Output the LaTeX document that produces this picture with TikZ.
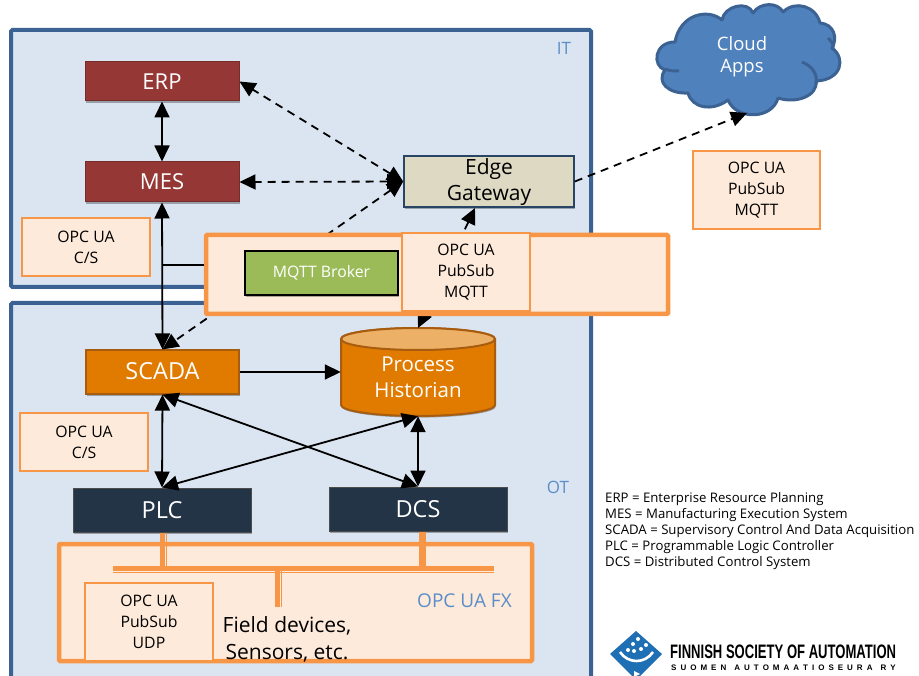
\documentclass[tikz,border=0pt]{standalone}
\usepackage{fontspec}
\setmainfont{Open Sans}
\newfontfamily\logofont{Liberation Sans}
\usetikzlibrary{arrows.meta,shadows}
\definecolor{panelfill}{HTML}{DBE5F1}
\definecolor{paneledge}{HTML}{3B6292}
\definecolor{orangeedge}{HTML}{F79646}
\definecolor{peach}{HTML}{FDEADA}
\definecolor{maroon}{HTML}{953735}
\definecolor{burnt}{HTML}{E07B00}
\definecolor{burntedge}{HTML}{A85C10}
\definecolor{navy}{HTML}{243447}
\definecolor{khaki}{HTML}{DDD9C3}
\definecolor{leaf}{HTML}{9BBB59}
\definecolor{cloudfill}{HTML}{4F81BD}
\definecolor{labelblue}{HTML}{5B8DC9}
\definecolor{logoblue}{HTML}{1F6FB5}
\newcommand{\fs}[2]{\fontsize{#1}{#2}\selectfont}
\tikzset{
  panel/.style={draw=paneledge,fill=panelfill,line width=4pt,rounded corners=1.5pt},
  softshadow/.style={drop shadow={shadow xshift=0.8pt,shadow yshift=-1.6pt,opacity=.3,fill=black}},
  block/.style={rectangle,inner sep=0pt,align=center,text=white,softshadow,font=\fs{22}{26}},
  redblock/.style={block,fill=maroon,draw=maroon!80!black,line width=1pt},
  orangeblock/.style={block,fill=burnt,draw=burntedge,line width=1.2pt},
  navyblock/.style={block,fill=navy,draw=black!70,line width=1pt,font=\fs{23.5}{26}},
  note/.style={rectangle,draw=orangeedge,fill=peach,line width=1.6pt,inner sep=0pt,align=center,text=black,font=\fs{15.8}{21}},
  bigpeach/.style={rectangle,draw=orangeedge,fill=peach,line width=4.5pt,inner sep=0pt,rounded corners=1pt},
  link/.style={line width=1.8pt,black},
  both/.style={link,{Triangle[length=16pt,width=15pt]}-{Triangle[length=16pt,width=15pt]}},
  onearrow/.style={link,-{Triangle[length=16pt,width=15pt]}},
  dashlink/.style={both,dash pattern=on 8pt off 6pt},
  dashone/.style={onearrow,dash pattern=on 8pt off 6pt},
  bus/.style={orangeedge,line width=5pt},
  busedge/.style={orangeedge,line width=1.6pt},
  tag/.style={text=labelblue,inner sep=0pt,font=\fs{17}{20}},
  plain/.style={inner sep=0pt,align=center,text=black},
  legendline/.style={inner sep=0pt,anchor=west,text=black,font=\fs{13.2}{15}},
}
\begin{document}
\begin{tikzpicture}[x=1pt,y=-1pt]
\useasboundingbox (0,0) rectangle (919,676);
% panels
\draw[panel] (11,30) rectangle (591,287);
\draw[panel] (11,303) rectangle (591,690);
\node[tag] (itlabel) at (564,48) {IT};
\node[tag] (otlabel) at (558,487) {OT};

% blocks
\node[redblock,minimum width=154pt,minimum height=39pt] (erp) at (162,81.5) {ERP};
\node[redblock,minimum width=154pt,minimum height=40pt] (mes) at (162,182) {MES};
\node[orangeblock,font=\fs{23.5}{26},minimum width=153pt,minimum height=44pt] (scada) at (162.5,372) {};
\node[inner sep=0pt,text=white,font=\fs{23.5}{26}] (scadatext) at (162.5,371) {SCADA};
\node[navyblock,minimum width=178pt,minimum height=44pt] (plc) at (162,510) {PLC};
\node[navyblock,minimum width=178pt,minimum height=44pt] (dcs) at (418,509) {DCS};
\node[block,fill=khaki,draw=paneledge!70!black,line width=1.6pt,text=black,minimum width=170pt,minimum height=51pt,font=\fs{21}{26}] (edge) at (489,181.5) {};
\node[inner sep=0pt,align=center,text=black,font=\fs{21}{26}] (edgetext) at (489,182.5) {Edge\\Gateway};

% historian
\path[draw=burntedge,line width=2pt,fill=burnt,softshadow] (341,339) -- (341,405) arc[start angle=180,end angle=0,x radius=77,y radius=11] -- (495,339) arc[start angle=0,end angle=-180,x radius=77,y radius=11] -- cycle;
\path[draw=burntedge,line width=2pt,fill=burnt!60!white] (418,339) ellipse[x radius=77,y radius=11];
\node[inner sep=0pt,minimum width=154pt,minimum height=88pt] (hist) at (418,372) {};
\node[inner sep=0pt,align=center,text=white,font=\fs{20.5}{26}] (histtext) at (418,377) {Process\\Historian};

% cloud
\path[draw=paneledge,line width=3pt,fill=cloudfill,line join=round]
  (675,42) .. controls (680,14) and (708,8) .. (722,20)
  .. controls (724,6) and (748,0) .. (753,13)
  .. controls (760,2) and (778,2) .. (783,12)
  .. controls (795,0) and (816,6) .. (820,23)
  .. controls (834,24) and (838,38) .. (832,48)
  .. controls (846,58) and (842,80) .. (816,81)
  .. controls (818,96) and (796,104) .. (778,98)
  .. controls (772,120) and (736,120) .. (728,100)
  .. controls (712,112) and (692,108) .. (688,93)
  .. controls (668,94) and (656,82) .. (665,70)
  .. controls (652,66) and (654,42) .. (675,42) -- cycle;
\draw[paneledge,line width=3pt] (802,62) .. controls (812,66) and (818,74) .. (816,84);
\draw[paneledge,line width=3pt] (665,69) .. controls (670,71) and (674,71) .. (679,71);
\draw[paneledge,line width=3pt] (832,50) .. controls (834,46) and (834,44) .. (828,38);
\node[inner sep=0pt,align=center,text=white,font=\fs{18.5}{22}] (cloud) at (742,57) {Cloud\\Apps};
\coordinate (cloudport) at (747,113);

% connectors
\coordinate (tap) at (162,265);
\coordinate (histtop) at (418,328);
\coordinate (edgebottom) at (475,208);
\draw[both] (erp.south) -- (mes.north);
\draw[both] (mes.south) -- (scada.north);
\draw[dashlink] (edge.west) -- (erp.east);
\draw[dashlink] (edge.west) -- (mes.east);
\draw[dashlink] (edge.west) -- (scada.north);
\draw[dashlink] (edgebottom) -- (histtop);
\draw[dashone] (edge.east) -- (cloudport);
\draw[onearrow] (scada.east) -- (hist.west);
\draw[both] (scada.south) -- (plc.north);
\draw[both] (scada.south) -- (dcs.north);
\draw[both] (plc.north) -- (hist.south);
\draw[both] (hist.south) -- (dcs.north);

% OPC UA notes
\node[note,minimum width=128pt,minimum height=58pt] (csit) at (86,247) {OPC UA\\C/S};
\node[note,minimum width=128pt,minimum height=58pt] (csot) at (84,442) {OPC UA\\C/S};
\node[note,minimum width=127pt,minimum height=78pt] (cloudnote) at (756.5,190) {OPC UA\\PubSub\\MQTT};

% broker band
\node[bigpeach,minimum width=462pt,minimum height=79pt] (band) at (437,274.5) {};
\draw[link] (tap) -- (band.west |- tap);
\node[rectangle,fill=leaf,draw=black,line width=1.6pt,inner sep=0pt,text=white,minimum width=153pt,minimum height=44pt,font=\fs{15.8}{18},softshadow] (broker) at (321.5,273) {MQTT Broker};
\node[note,minimum width=128pt,minimum height=78pt] (bandnote) at (466,272) {OPC UA\\PubSub\\MQTT};

% field bus box
\node[bigpeach,minimum width=473pt,minimum height=117pt] (fx) at (295.5,602.5) {};
\coordinate (busleft) at (113,568);
\coordinate (busright) at (494,568);
\coordinate (busdrop) at (277.5,607);
\coordinate (fieldtap) at (277.5,570);
\draw[bus] (plc.south) ++(.5,0) -- ++(0,36);
\draw[busedge] (plc.south) ++(4.3,0) -- ++(0,36);
\draw[bus] (dcs.south) ++(3,0) -- ++(0,37);
\draw[busedge] (dcs.south) ++(7,0) -- ++(0,37);
\draw[bus] (fieldtap) -- (busdrop);
\draw[busedge] (281.5,571) -- (281.5,607);
\draw[bus] (busleft) -- (busright);
\draw[busedge] ([yshift=-4.5pt]busleft) -- ([yshift=-4.5pt]busright);
\node[note,minimum width=128pt,minimum height=78pt] (udp) at (149,622) {OPC UA\\PubSub\\UDP};
\node[plain,font=\fs{21}{27}] (field) at (287,639) {Field devices,\\Sensors, etc.};
\node[tag,font=\fs{19}{22}] (fxlabel) at (464.5,601) {OPC UA FX};

% legend
\node[legendline] (l1) at (605,499) {ERP = Enterprise Resource Planning};
\node[legendline] (l2) at (605,515) {MES = Manufacturing Execution System};
\node[legendline] (l3) at (605,531) {SCADA = Supervisory Control And Data Acquisition};
\node[legendline] (l4) at (605,547) {PLC = Programmable Logic Controller};
\node[legendline] (l5) at (605,563) {DCS = Distributed Control System};

% logo
\fill[logoblue] (636,631) -- (662,654) -- (636,680) -- (610,654) -- cycle;
\draw[white,line width=2.6pt] (620,652) .. controls (628,664) and (645,664) .. (653,652);
\foreach \px/\py in {628/650,633/644,638/639,641/649,646/645,634/651}
  \fill[white] (\px,\py) circle[radius=2pt];
\fill[white] (634,671) -- (640,674) -- (634,677) -- cycle;
\node[inner sep=0pt,anchor=west,text=black,xscale=.67,font=\logofont\bfseries\fs{19.5}{20}] (logo) at (670,651.5) {FINNISH SOCIETY OF AUTOMATION};
\node[inner sep=0pt,anchor=west,text=black,font=\logofont\bfseries\fs{8}{9}] (logosub) at (671,668) {S\,\,\,U\,\,\,O\,\,\,M\,\,\,E\,\,\,N\quad A\,\,\,U\,\,\,T\,\,\,O\,\,\,M\,\,\,A\,\,\,A\,\,\,T\,\,\,I\,\,\,O\,\,\,S\,\,\,E\,\,\,U\,\,\,R\,\,\,A\quad R\,\,\,Y};
\end{tikzpicture}
\end{document}
